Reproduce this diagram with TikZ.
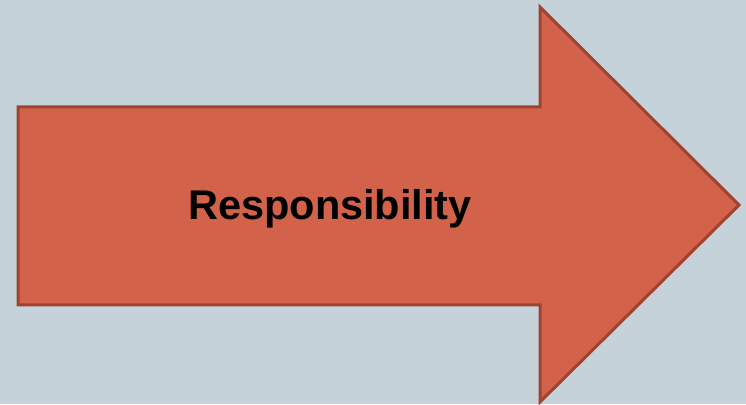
\documentclass[tikz,border=0pt]{standalone}
\usepackage{fontspec}
\setmainfont{Liberation Sans}
\definecolor{bgc}{HTML}{C5D2D9}
\definecolor{arrfill}{HTML}{D2634A}
\definecolor{arrline}{HTML}{A0422F}
\begin{document}
\begin{tikzpicture}[x=1pt,y=1pt,
  bigarrow/.style={fill=arrfill,draw=arrline,line width=3pt,line join=miter},
  lbl/.style={font=\fontsize{41.5}{48}\selectfont\bfseries,text=black,inner sep=0pt,anchor=base}]
\fill[bgc] (0,0) rectangle (746,404);
\useasboundingbox (0,0) rectangle (746,404);
\draw[bigarrow] (18,297) -- (540,297) -- (540,397) -- (739,199) -- (540,2) -- (540,99) -- (18,99) -- cycle;
\node[lbl] (t) at (330,184) {Responsibility};
\end{tikzpicture}
\end{document}
